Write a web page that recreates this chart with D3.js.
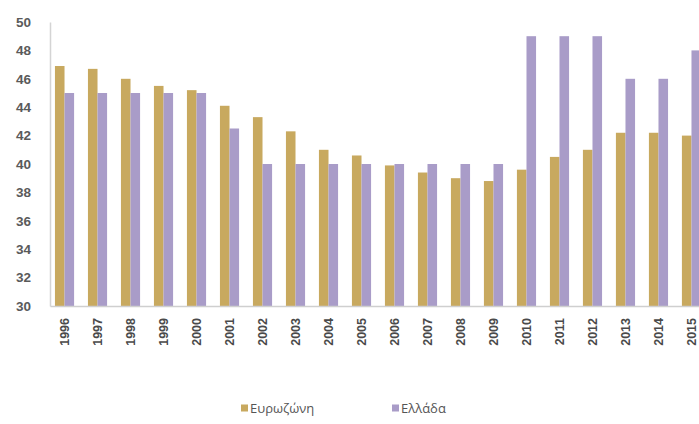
<!DOCTYPE html>
<html>
<head>
<meta charset="utf-8">
<script src="https://cdn.jsdelivr.net/npm/d3@7"></script>
<style>
  html, body { margin: 0; padding: 0; background: #fff; }
  svg { display: block; font-family: "Open Sans", "Noto Sans", sans-serif; }
</style>
</head>
<body>
<svg id="chart" width="699" height="424"></svg>
<script>
// Years on the x axis
const years = ["1996","1997","1998","1999","2000","2001","2002","2003","2004","2005",
               "2006","2007","2008","2009","2010","2011","2012","2013","2014","2015"];
// Euro area series
const eurozone = [46.9, 46.7, 46.0, 45.5, 45.2, 44.1, 43.3, 42.3, 41.0, 40.6,
                  39.9, 39.4, 39.0, 38.8, 39.6, 40.5, 41.0, 42.2, 42.2, 42.0];
// Greece series
const greece = [45, 45, 45, 45, 45, 42.5, 40, 40, 40, 40,
                40, 40, 40, 40, 49, 49, 49, 46, 46, 48];
const yTicks = [30, 32, 34, 36, 38, 40, 42, 44, 46, 48, 50];
const seriesNames = ["Ευρωζώνη", "Ελλάδα"];
const seriesColors = ["#c8a95f", "#a99cc8"];

const svg = d3.select("#chart");
const plotLeft = 50, plotRight = 706, plotTop = 22, plotBottom = 306;

const x = d3.scaleBand().domain(years).range([plotLeft, plotRight]).paddingInner(0.42).paddingOuter(0.15);
const sub = d3.scaleBand().domain([0, 1]).range([0, x.bandwidth()]);
const y = d3.scaleLinear().domain([30, 50]).range([plotBottom, plotTop]);

const rows = years.map((yr, i) => ({ yr, vals: [eurozone[i], greece[i]] }));

// Bars
const groups = svg.append("g").selectAll("g").data(rows).join("g")
  .attr("transform", d => `translate(${x(d.yr)},0)`);
groups.selectAll("rect").data(d => d.vals.map((v, k) => ({ v, k }))).join("rect")
  .attr("x", d => sub(d.k))
  .attr("width", sub.bandwidth())
  .attr("y", d => y(d.v))
  .attr("height", d => y(30) - y(d.v))
  .attr("fill", d => seriesColors[d.k]);

// Y axis
const yAxis = svg.append("g").attr("transform", `translate(${plotLeft},0)`)
  .call(d3.axisLeft(y).tickValues(yTicks).tickSize(0).tickPadding(19));
yAxis.select(".domain").attr("stroke", "#d4d4d4").attr("stroke-width", 1.5);
yAxis.selectAll("text").attr("fill", "#5a5a5a").attr("font-size", 13.5).attr("font-weight", 600);

// X axis
const xAxis = svg.append("g").attr("transform", `translate(0,${plotBottom})`)
  .call(d3.axisBottom(x).tickSize(0).tickPadding(0));
xAxis.select(".domain").attr("stroke", "#cfcfcf").attr("stroke-width", 1.5);
xAxis.selectAll("text")
  .attr("fill", "#4a4a4a").attr("font-size", 12.5).attr("font-weight", 700)
  .attr("text-anchor", "end")
  .attr("transform", "rotate(-90)")
  .attr("x", -12).attr("y", 0).attr("dy", "0.35em");

// Legend
const legendX = [241, 392];
const legend = svg.append("g").selectAll("g").data(seriesNames).join("g")
  .attr("transform", (d, i) => `translate(${legendX[i]},408)`);
legend.append("rect").attr("x", 0).attr("y", -3.5).attr("width", 7).attr("height", 7)
  .attr("fill", (d, i) => seriesColors[i]);
legend.append("text").attr("x", 9).attr("y", 0).attr("dy", "0.35em")
  .attr("font-size", 13).attr("fill", "#555").text(d => d);
</script>
</body>
</html>
